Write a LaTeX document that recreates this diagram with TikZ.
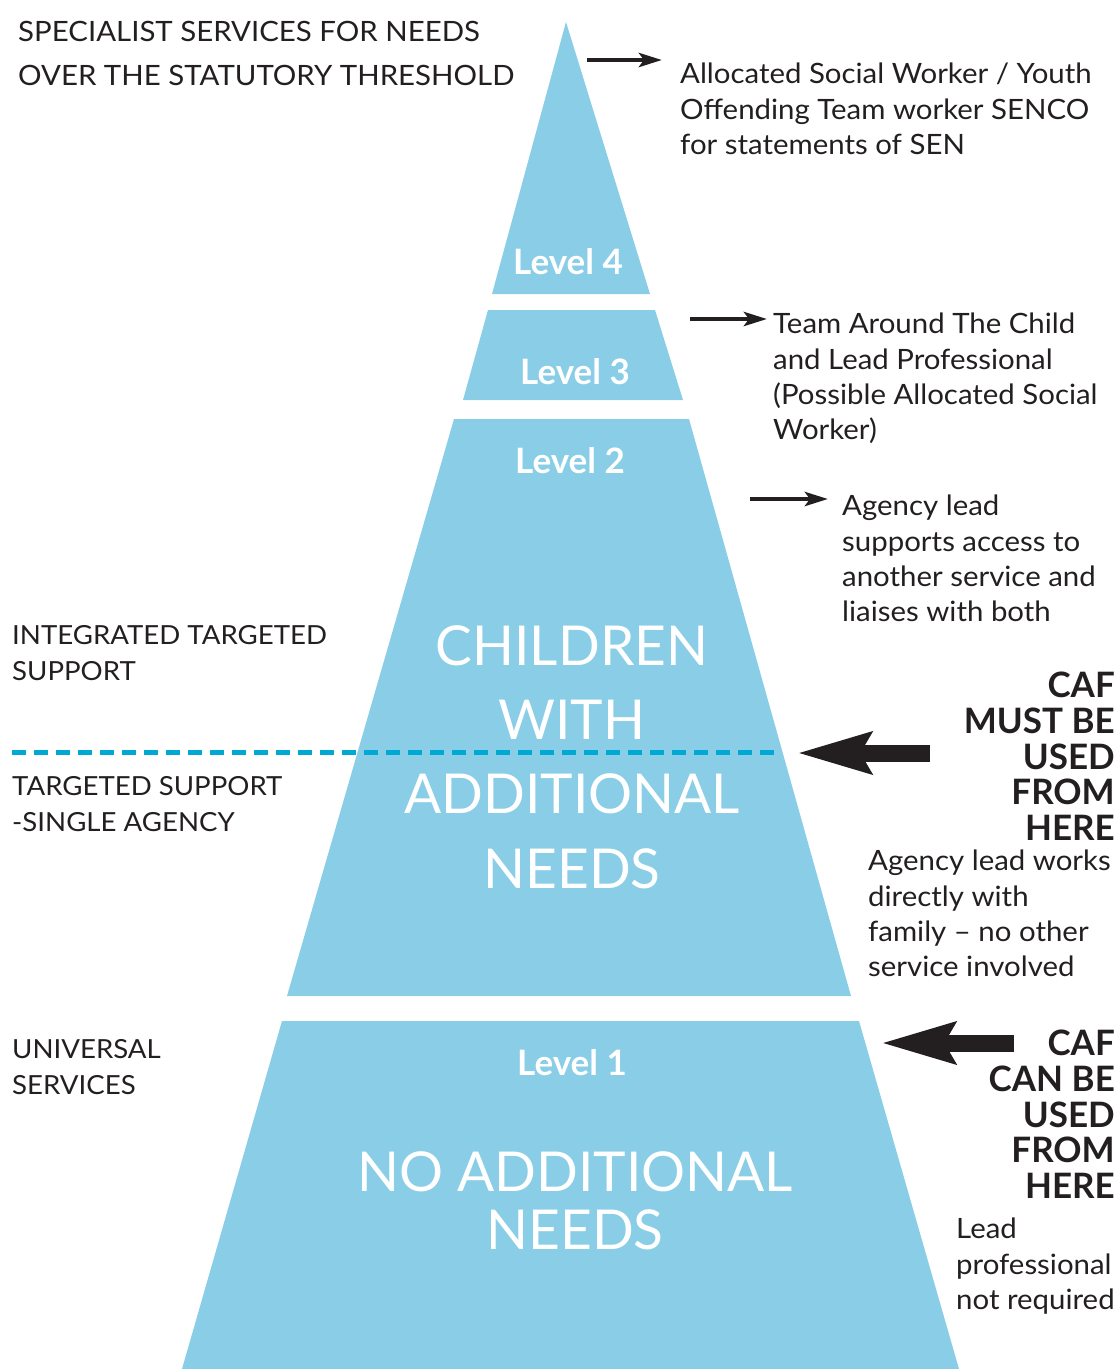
\documentclass[tikz,border=0pt]{standalone}
\usepackage{fontspec}
\setmainfont{Lato}
\newfontfamily\lblfont{Lato}[FakeStretch=1.05,Ligatures=TeX]
\usetikzlibrary{arrows.meta}
\definecolor{pyr}{RGB}{137,205,230}
\definecolor{dashc}{RGB}{0,168,212}
\definecolor{ink}{RGB}{35,31,32}
\begin{document}
\begin{tikzpicture}[x=1pt,y=-1pt,
  tier/.style={fill=pyr,draw=none},
  lbl/.style={font=\lblfont\fontsize{28}{35.2}\selectfont,text=ink,align=left,anchor=north west,inner sep=0pt},
  caplbl/.style={font=\lblfont\fontsize{26.3}{36}\selectfont,text=ink,align=left,anchor=north west,inner sep=0pt},
  caf/.style={font=\bfseries\fontsize{35}{35.7}\selectfont,text=ink,align=right,anchor=north east,inner sep=0pt},
  lvl/.style={font=\bfseries\fontsize{35}{36}\selectfont,text=white,inner sep=0pt},
  big/.style={font=\fontsize{55}{74.3}\selectfont,text=white,align=center,inner sep=0pt},
  thinarrow/.style={draw=ink,line width=4.5pt,-{Stealth[length=23pt 0 0,width=14pt 0 0,inset=5pt 0]}},
  bigarrow/.style={draw=ink,line width=17pt,-{Stealth[length=73pt 0 0,width=40pt 0 0,inset=10pt 0]}},
  sep/.style={draw=dashc,line width=5pt,dash pattern=on 14pt off 8pt}
]
\useasboundingbox (0,0) rectangle (1119,1369);

% pyramid tiers
\fill[tier] (566,22) -- (650,294) -- (492,294) -- cycle;
\fill[tier] (488,310) -- (655,310) -- (683,400) -- (463,400) -- cycle;
\fill[tier] (454,419) -- (689,419) -- (851,996) -- (287,996) -- cycle;
\fill[tier] (282,1021) -- (859,1021) -- (959,1369) -- (182,1369) -- cycle;

% tier labels
\node[lvl] (l4) at (568,262) {Level 4};
\node[lvl] (l3) at (575,372) {Level 3};
\node[lvl] (l2) at (570,461) {Level 2};
\node[lvl] (l1) at (572,1063) {Level 1};
\node[big] (can) at (572,757) {CHILDREN\\WITH\\ADDITIONAL\\NEEDS};
\node[big,font=\fontsize{55}{58}\selectfont] (nan) at (575,1201) {NO ADDITIONAL\\NEEDS};

% dashed separator
\coordinate (dl) at (12,752);
\coordinate (dr) at (775,752);
\draw[sep] (dl) -- (dr);

% left labels
\node[caplbl,font=\lblfont\fontsize{28}{44}\selectfont] (spec) at (18,21) {SPECIALIST SERVICES FOR NEEDS\\OVER THE STATUTORY THRESHOLD};
\node[caplbl] (its) at (12,625) {INTEGRATED TARGETED\\SUPPORT};
\node[caplbl] (tss) at (12,776) {TARGETED SUPPORT\\-SINGLE AGENCY};
\node[caplbl] (us) at (12,1039) {UNIVERSAL\\SERVICES};

% right labels
\node[lbl] (alloc) at (680,63) {Allocated Social Worker / Youth\\Offending Team worker SENCO\\for statements of SEN};
\node[lbl] (tac) at (773,313) {Team Around The Child\\and Lead Professional\\(Possible Allocated Social\\Worker)};
\node[lbl] (agl) at (842,495) {Agency lead\\supports access to\\another service and\\liaises with both};
\node[lbl] (alw) at (868,850) {Agency lead works\\directly with\\family – no other\\service involved};
\node[lbl] (lp) at (956,1218) {Lead\\professional\\not required};
\node[caf] (must) at (1115,672) {CAF\\MUST BE\\USED\\FROM\\HERE};
\node[caf] (canb) at (1115,1030) {CAF\\CAN BE\\USED\\FROM\\HERE};

% arrows
\coordinate (a1s) at (587,60);  \coordinate (a1e) at (662,60);
\coordinate (a2s) at (690,319); \coordinate (a2e) at (767,319);
\coordinate (a3s) at (750,499); \coordinate (a3e) at (828,499);
\draw[thinarrow] (a1s) -- (a1e);
\draw[thinarrow] (a2s) -- (a2e);
\draw[thinarrow] (a3s) -- (a3e);
\coordinate (b1s) at (930,753);  \coordinate (b1e) at (797,753);
\coordinate (b2s) at (1014,1043); \coordinate (b2e) at (881,1043);
\draw[bigarrow] (b1s) -- (b1e);
\draw[bigarrow] (b2s) -- (b2e);
\end{tikzpicture}
\end{document}
